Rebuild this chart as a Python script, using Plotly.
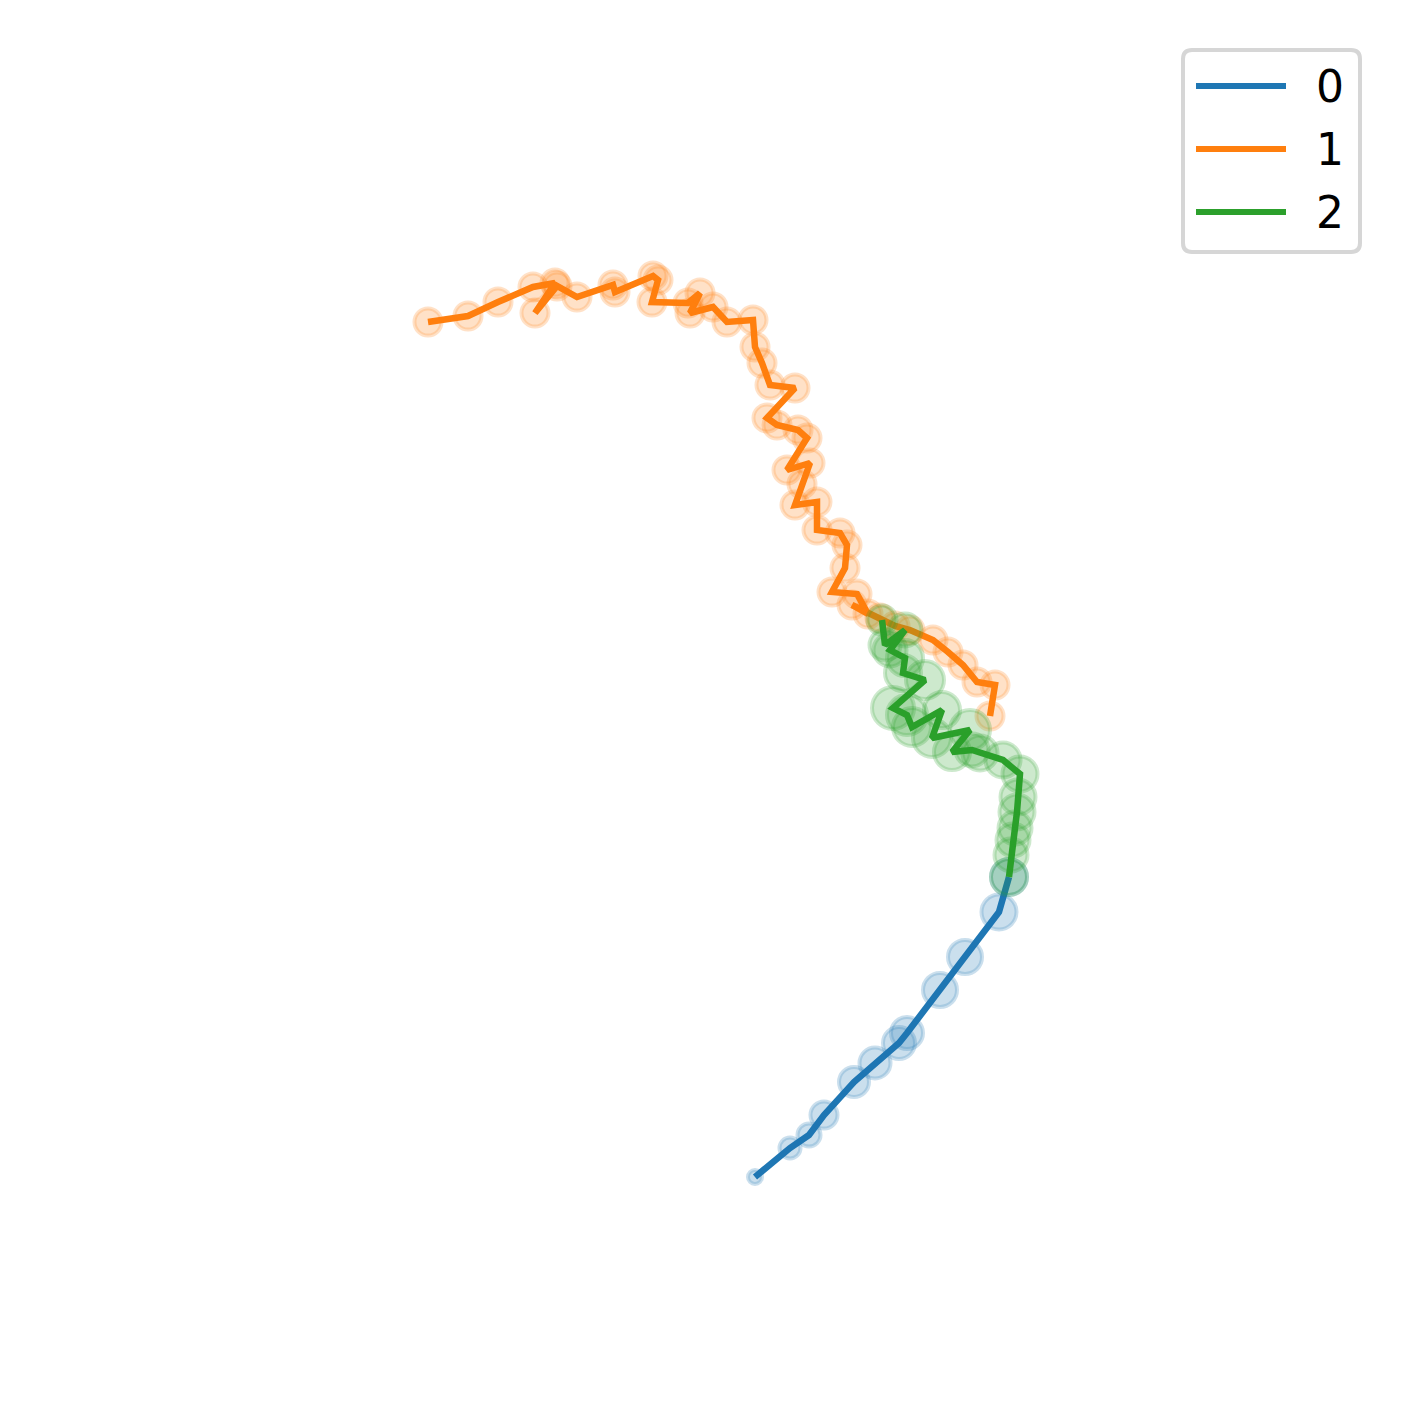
import plotly.graph_objects as go

# ---------------- data ----------------
series_names = ["0", "1", "2"]
series_colors = ["#1f77b4", "#ff7f0e", "#2ca02c"]

s0_x = [755, 790, 809, 824, 854, 875, 899, 907, 940, 965, 999, 1009]
s0_y = [1177, 1148, 1135, 1115, 1082, 1063, 1043, 1033, 990, 957, 912, 877]
s0_size = [18, 25, 27, 31, 34, 35, 36, 36, 38, 38, 39, 40]

s1_x = [428, 468, 498, 533, 555, 535, 557, 577, 613, 615, 653, 658, 652, 688,
        700, 690, 713, 727, 753, 755, 762, 770, 795, 767, 777, 798, 807, 787,
        810, 802, 795, 817, 817, 840, 847, 845, 832, 857, 868, 852, 880, 895,
        910, 933, 948, 963, 977, 995, 990]
s1_y = [322, 316, 302, 287, 283, 313, 286, 297, 285, 292, 276, 280, 302, 303,
        293, 313, 307, 322, 320, 347, 363, 385, 388, 418, 425, 430, 438, 470,
        463, 484, 505, 502, 530, 533, 545, 568, 592, 594, 614, 605, 618, 626,
        630, 640, 652, 665, 682, 685, 716]
s1_size = [31] * len(s1_x)

s2_x = [1009, 1011, 1013, 1015, 1017, 1018, 1020, 1003, 980, 972, 952, 970,
        932, 942, 912, 907, 893, 925, 903, 905, 890, 905, 885, 882]
s2_y = [877, 855, 840, 828, 812, 797, 774, 760, 753, 750, 752, 730,
        738, 710, 727, 715, 708, 680, 673, 658, 650, 630, 645, 620]
s2_size = [40, 37, 37, 37, 39, 39, 39, 39, 39, 37, 40, 44,
           42, 40, 42, 44, 46, 42, 40, 40, 37, 37, 35, 33]

series = [(s0_x, s0_y, s0_size), (s1_x, s1_y, s1_size), (s2_x, s2_y, s2_size)]


def rgba(hex_color, a):
    h = hex_color.lstrip("#")
    r, g, b = int(h[0:2], 16), int(h[2:4], 16), int(h[4:6], 16)
    return f"rgba({r},{g},{b},{a})"


EDGE = 4
ALPHA = 0.33
fig = go.Figure()
for name, col, (xs, ys, ss) in zip(series_names, series_colors, series):
    fig.add_trace(go.Scatter(
        x=xs, y=ys, mode="lines", name=name, showlegend=False,
        line=dict(color=col, width=6.5),
    ))
    fig.add_trace(go.Scatter(
        x=xs, y=ys, mode="markers", name=name, showlegend=False,
        marker=dict(size=[s - EDGE for s in ss], color=rgba(col, ALPHA),
                    line=dict(color=rgba(col, ALPHA), width=EDGE)),
    ))

# ---------------- legend (matplotlib-like) ----------------
W, H = 1409, 1410
bx0, bx1, by0, by1, rr = 1183, 1360, 50, 252, 9
path = (f"M {bx0+rr},{by0} L {bx1-rr},{by0} Q {bx1},{by0} {bx1},{by0+rr} "
        f"L {bx1},{by1-rr} Q {bx1},{by1} {bx1-rr},{by1} L {bx0+rr},{by1} "
        f"Q {bx0},{by1} {bx0},{by1-rr} L {bx0},{by0+rr} Q {bx0},{by0} {bx0+rr},{by0} Z")
shapes = [dict(type="path", path=path, xref="x", yref="y",
               line=dict(color="#d6d6d6", width=4), fillcolor="white", layer="above")]
annotations = []
row_y = [86, 149, 212]
for name, col, yy in zip(series_names, series_colors, row_y):
    shapes.append(dict(type="line", xref="x", yref="y", x0=1196, x1=1286, y0=yy, y1=yy,
                       line=dict(color=col, width=6), layer="above"))
    annotations.append(dict(x=1330, y=yy, xref="x", yref="y", text=name, showarrow=False,
                            xanchor="center", yanchor="middle",
                            font=dict(family="DejaVu Sans", size=44, color="black")))

fig.update_layout(
    width=W, height=H,
    margin=dict(l=0, r=0, t=0, b=0),
    paper_bgcolor="white", plot_bgcolor="white",
    xaxis=dict(range=[0, W], visible=False, fixedrange=True),
    yaxis=dict(range=[H, 0], visible=False, fixedrange=True),
    shapes=shapes, annotations=annotations,
    showlegend=False,
)

fig.write_html("out.html")
